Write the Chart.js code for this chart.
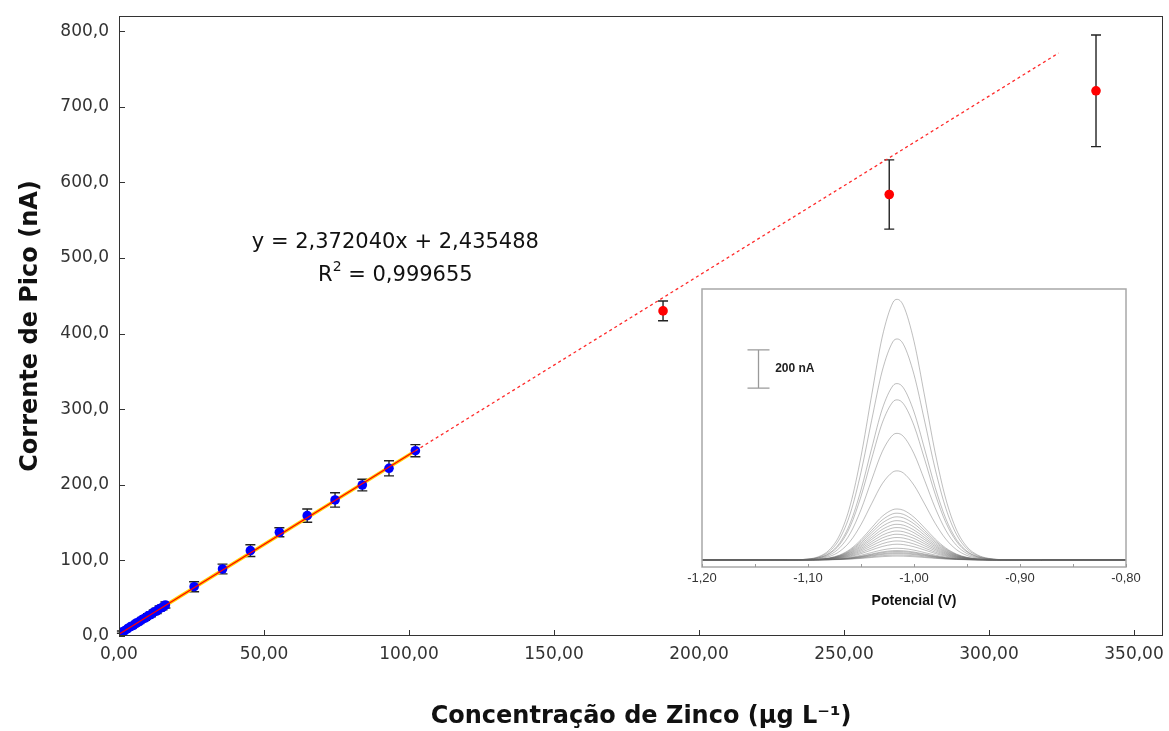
<!DOCTYPE html>
<html><head><meta charset="utf-8">
<script src="https://cdn.jsdelivr.net/npm/chart.js@4.4.1/dist/chart.umd.min.js"></script>
<style>
html,body{margin:0;padding:0;background:#fff;}
#wrap{position:relative;width:1169px;height:731px;overflow:hidden;}
#main{position:absolute;left:0;top:0;}
#inset{position:absolute;left:670px;top:285px;}
</style></head><body>
<div id="wrap"><canvas id="main" width="1169" height="731"></canvas><canvas id="inset" width="490" height="330"></canvas></div>
<script>
// ---------- main chart data ----------
const concBlue = [1.0, 2.0, 3.0, 4.0, 5.0, 6.0, 7.0, 8.0, 9.0, 10.0, 11.0, 12.0, 13.0, 14.0, 15.0, 16.0,
                  25.9, 35.7, 45.3, 55.3, 64.9, 74.5, 83.9, 93.1, 102.2];
const peakBlue = [5.2, 7.0, 9.9, 12.5, 14.1, 17.2, 19.0, 21.9, 23.8, 26.6, 28.4, 31.5, 33.2, 36.1, 38.0, 41.0,
                  65.2, 88.6, 112.9, 137.2, 159.2, 179.9, 199.7, 221.8, 245.1];
const errBlue  = [1.5, 1.5, 2.0, 2.0, 2.0, 2.5, 2.5, 2.5, 3.0, 3.0, 3.0, 3.0, 3.5, 3.5, 3.5, 4.0,
                  6.6, 6.4, 7.7, 6.0, 8.8, 9.5, 7.7, 10.0, 8.0];
const concRed = [187.6, 265.6, 336.9];
const peakRed = [430.0, 583.9, 721.1];
const errRed  = [13.0, 45.8, 73.8];
const fitSlope = 2.372040;
const fitIntercept = 2.435488;
const fitSolidX = [0, 102.2];
const fitDashX = [102.2, 324.0];
const xTicksMain = [0, 50, 100, 150, 200, 250, 300, 350];
const yTicksMain = [0, 100, 200, 300, 400, 500, 600, 700, 800];
const eqLine1 = 'y = 2,372040x + 2,435488';
const eqLine2a = 'R';
const eqLine2sup = '2';
const eqLine2b = ' = 0,999655';

// ---------- inset data ----------
const potentials = [-1.20, -1.15, -1.12, -1.10, -1.09, -1.08, -1.07, -1.06, -1.05, -1.04, -1.03, -1.02, -1.016,
                    -1.01, -1.00, -0.99, -0.98, -0.97, -0.96, -0.95, -0.94, -0.93, -0.91, -0.88, -0.84, -0.80];
const peakProfile = [0, 0, 0.0002, 0.0036, 0.0125, 0.038, 0.097, 0.212, 0.397, 0.631, 0.855, 0.987, 1.0,
                     0.976, 0.839, 0.629, 0.411, 0.234, 0.116, 0.050, 0.019, 0.0063, 0.0005, 0, 0, 0];
const peakHeights = [1361, 1154, 921, 836, 661, 465, 266, 244, 225, 205, 186, 169, 151, 134, 117, 99, 82, 61, 49, 44, 38, 33, 26, 20];
const insetTicks = [-1.2, -1.1, -1.0, -0.9, -0.8];
const insetMinorTicks = [-1.15, -1.05, -0.95, -0.85];
const scaleBarNA = [897, 1097];
const scaleBarLabel = '200 nA';

const fmt2 = v => v.toFixed(2).replace('.', ',');
const fmt1 = v => v.toFixed(1).replace('.', ',');
const fitPts = xs => xs.map(x => ({x, y: fitSlope * x + fitIntercept}));

const mainPlugin = {
  id: 'mainDecor',
  beforeDatasetsDraw(chart) {
    const {ctx, scales: {x, y}} = chart;
    ctx.save();
    ctx.strokeStyle = '#222';
    ctx.lineWidth = 1.4;
    const bars = (xs, ys, es, cap) => xs.forEach((cx, i) => {
      const px = x.getPixelForValue(cx);
      const pt = y.getPixelForValue(ys[i] + es[i]);
      const pb = y.getPixelForValue(ys[i] - es[i]);
      ctx.beginPath();
      ctx.moveTo(px, pt); ctx.lineTo(px, pb);
      ctx.moveTo(px - cap, pt); ctx.lineTo(px + cap, pt);
      ctx.moveTo(px - cap, pb); ctx.lineTo(px + cap, pb);
      ctx.stroke();
    });
    bars(concBlue, peakBlue, errBlue, 5);
    bars(concRed, peakRed, errRed, 5);
    ctx.restore();
  },
  afterDraw(chart) {
    const {ctx, chartArea: a, scales: {x, y}} = chart;
    ctx.save();
    ctx.strokeStyle = '#333';
    ctx.lineWidth = 1;
    ctx.strokeRect(a.left + 0.5, a.top + 0.5, a.right - a.left - 1, a.bottom - a.top - 1);
    ctx.beginPath();
    xTicksMain.forEach(v => { const p = Math.round(x.getPixelForValue(v)) + 0.5; ctx.moveTo(p, a.bottom); ctx.lineTo(p, a.bottom - 6); });
    yTicksMain.forEach(v => { const p = Math.round(y.getPixelForValue(v)) + 0.5; ctx.moveTo(a.left, p); ctx.lineTo(a.left + 6, p); });
    ctx.stroke();
    // equation
    ctx.fillStyle = '#111';
    ctx.textBaseline = 'middle';
    ctx.font = '21px "DejaVu Sans", sans-serif';
    const cx = x.getPixelForValue(95.3);
    ctx.textAlign = 'center';
    ctx.fillText(eqLine1, cx, y.getPixelForValue(521));
    const y2 = y.getPixelForValue(477);
    const wA = ctx.measureText(eqLine2a).width;
    const wB = ctx.measureText(eqLine2b).width;
    ctx.font = '14px "DejaVu Sans", sans-serif';
    const wS = ctx.measureText(eqLine2sup).width;
    let sx = cx - (wA + wS + wB) / 2;
    ctx.textAlign = 'left';
    ctx.font = '21px "DejaVu Sans", sans-serif';
    ctx.fillText(eqLine2a, sx, y2);
    ctx.font = '14px "DejaVu Sans", sans-serif';
    ctx.fillText(eqLine2sup, sx + wA, y2 - 8);
    ctx.font = '21px "DejaVu Sans", sans-serif';
    ctx.fillText(eqLine2b, sx + wA + wS, y2);
    ctx.restore();
  }
};

new Chart(document.getElementById('main'), {
  type: 'scatter',
  data: {
    datasets: [
      {label: 'Ajuste', type: 'line', data: fitPts(fitSolidX), borderColor: '#ff0000', borderWidth: 1.2, pointRadius: 0, fill: false},
      {label: 'Extrapolação', type: 'line', data: fitPts(fitDashX), borderColor: '#ff2a2a', borderWidth: 1.3, borderDash: [3, 3], pointRadius: 0, fill: false},
      {label: 'Curva analítica', data: concBlue.map((v, i) => ({x: v, y: peakBlue[i]})), backgroundColor: '#0000ff', borderColor: '#0000ff', pointRadius: 4.8, pointBorderWidth: 0},
      {label: 'Fora da linearidade', data: concRed.map((v, i) => ({x: v, y: peakRed[i]})), backgroundColor: '#ff0000', borderColor: '#ff0000', pointRadius: 4.8, pointBorderWidth: 0},
      {label: 'Ajuste (fundo)', type: 'line', data: fitPts(fitSolidX), borderColor: '#ffd000', borderWidth: 3.5, pointRadius: 0, fill: false}
    ]
  },
  options: {
    responsive: false, animation: false,
    layout: {padding: {left: 0, right: 6, top: 16, bottom: 0}},
    plugins: {legend: {display: false}, tooltip: {enabled: false}},
    scales: {
      x: {
        type: 'linear', min: 0, max: 360,
        afterBuildTicks: s => { s.ticks = xTicksMain.map(v => ({value: v})); },
        ticks: {callback: v => fmt2(v), font: {family: '"DejaVu Sans", sans-serif', size: 17}, color: '#333', padding: 8, maxRotation: 0, autoSkip: false},
        grid: {display: false, drawTicks: false}, border: {display: false},
        title: {display: true, text: 'Concentração de Zinco (µg L⁻¹)', font: {family: '"DejaVu Sans", sans-serif', size: 24, weight: 'bold'}, color: '#111', padding: {top: 0, bottom: 0}},
        afterFit: s => { s.height = 95; s.paddingLeft = 0; s.paddingRight = 0; }
      },
      y: {
        type: 'linear', min: 0, max: 820,
        afterBuildTicks: s => { s.ticks = yTicksMain.map(v => ({value: v})); },
        ticks: {callback: v => fmt1(v), font: {family: '"DejaVu Sans", sans-serif', size: 17}, color: '#333', padding: 10},
        grid: {display: false, drawTicks: false}, border: {display: false},
        title: {display: true, text: 'Corrente de Pico (nA)', font: {family: '"DejaVu Sans", sans-serif', size: 24, weight: 'bold'}, color: '#111', padding: {top: 16, bottom: 0}},
        afterFit: s => { s.width = 119; s.paddingTop = 0; s.paddingBottom = 0; }
      }
    }
  },
  plugins: [mainPlugin]
});

const insetPlugin = {
  id: 'insetDecor',
  beforeDraw(chart) {
    const {ctx, chartArea: a} = chart;
    ctx.save();
    ctx.fillStyle = '#fff';
    ctx.fillRect(a.left, a.top, a.right - a.left, a.bottom - a.top);
    ctx.restore();
  },
  afterDraw(chart) {
    const {ctx, chartArea: a, scales: {x, y}} = chart;
    ctx.save();
    ctx.strokeStyle = '#a8a8a8';
    ctx.lineWidth = 1.5;
    ctx.strokeRect(a.left, a.top, a.right - a.left, a.bottom - a.top);
    ctx.beginPath();
    ctx.lineWidth = 1;
    ctx.strokeStyle = '#999';
    insetTicks.concat(insetMinorTicks).forEach(v => { const p = Math.round(x.getPixelForValue(v)) + 0.5; ctx.moveTo(p, a.bottom); ctx.lineTo(p, a.bottom - 3); });
    ctx.stroke();
    // scale bar
    const bx = Math.round(x.getPixelForValue(-1.147)) + 0.5;
    const t = y.getPixelForValue(scaleBarNA[1]);
    const b = y.getPixelForValue(scaleBarNA[0]);
    ctx.strokeStyle = '#9a9a9a';
    ctx.lineWidth = 1.3;
    ctx.beginPath();
    ctx.moveTo(bx, t); ctx.lineTo(bx, b);
    ctx.moveTo(bx - 11, t); ctx.lineTo(bx + 11, t);
    ctx.moveTo(bx - 11, b); ctx.lineTo(bx + 11, b);
    ctx.stroke();
    ctx.fillStyle = '#222';
    ctx.font = 'bold 12px "Liberation Sans", Arial, sans-serif';
    ctx.textAlign = 'left';
    ctx.textBaseline = 'middle';
    ctx.fillText(scaleBarLabel, x.getPixelForValue(-1.131), (t + b) / 2);
    ctx.restore();
  }
};

new Chart(document.getElementById('inset'), {
  type: 'line',
  data: {
    datasets: peakHeights.map((h, k) => ({
      label: 'Voltamograma ' + (k + 1),
      data: potentials.map((p, i) => ({x: p, y: h * peakProfile[i]})),
      borderColor: 'rgba(100,100,100,0.42)', borderWidth: 1, pointRadius: 0,
      cubicInterpolationMode: 'monotone', fill: false
    }))
  },
  options: {
    responsive: false, animation: false,
    layout: {padding: {left: 32, right: 34, top: 4, bottom: 0}},
    plugins: {legend: {display: false}, tooltip: {enabled: false}},
    scales: {
      x: {
        type: 'linear', min: -1.2, max: -0.8,
        afterBuildTicks: s => { s.ticks = insetTicks.map(v => ({value: v})); },
        ticks: {callback: v => fmt2(v), font: {family: '"Liberation Sans", Arial, sans-serif', size: 13}, color: '#333', padding: 4, maxRotation: 0, autoSkip: false},
        grid: {display: false, drawTicks: false}, border: {display: false},
        title: {display: true, text: 'Potencial (V)', font: {family: '"Liberation Sans", Arial, sans-serif', size: 14, weight: 'bold'}, color: '#111', padding: {top: 0, bottom: 5}},
        afterFit: s => { s.height = 48; }
      },
      y: {display: false, min: -37, max: 1415}
    }
  },
  plugins: [insetPlugin]
});
</script>
</body></html>
